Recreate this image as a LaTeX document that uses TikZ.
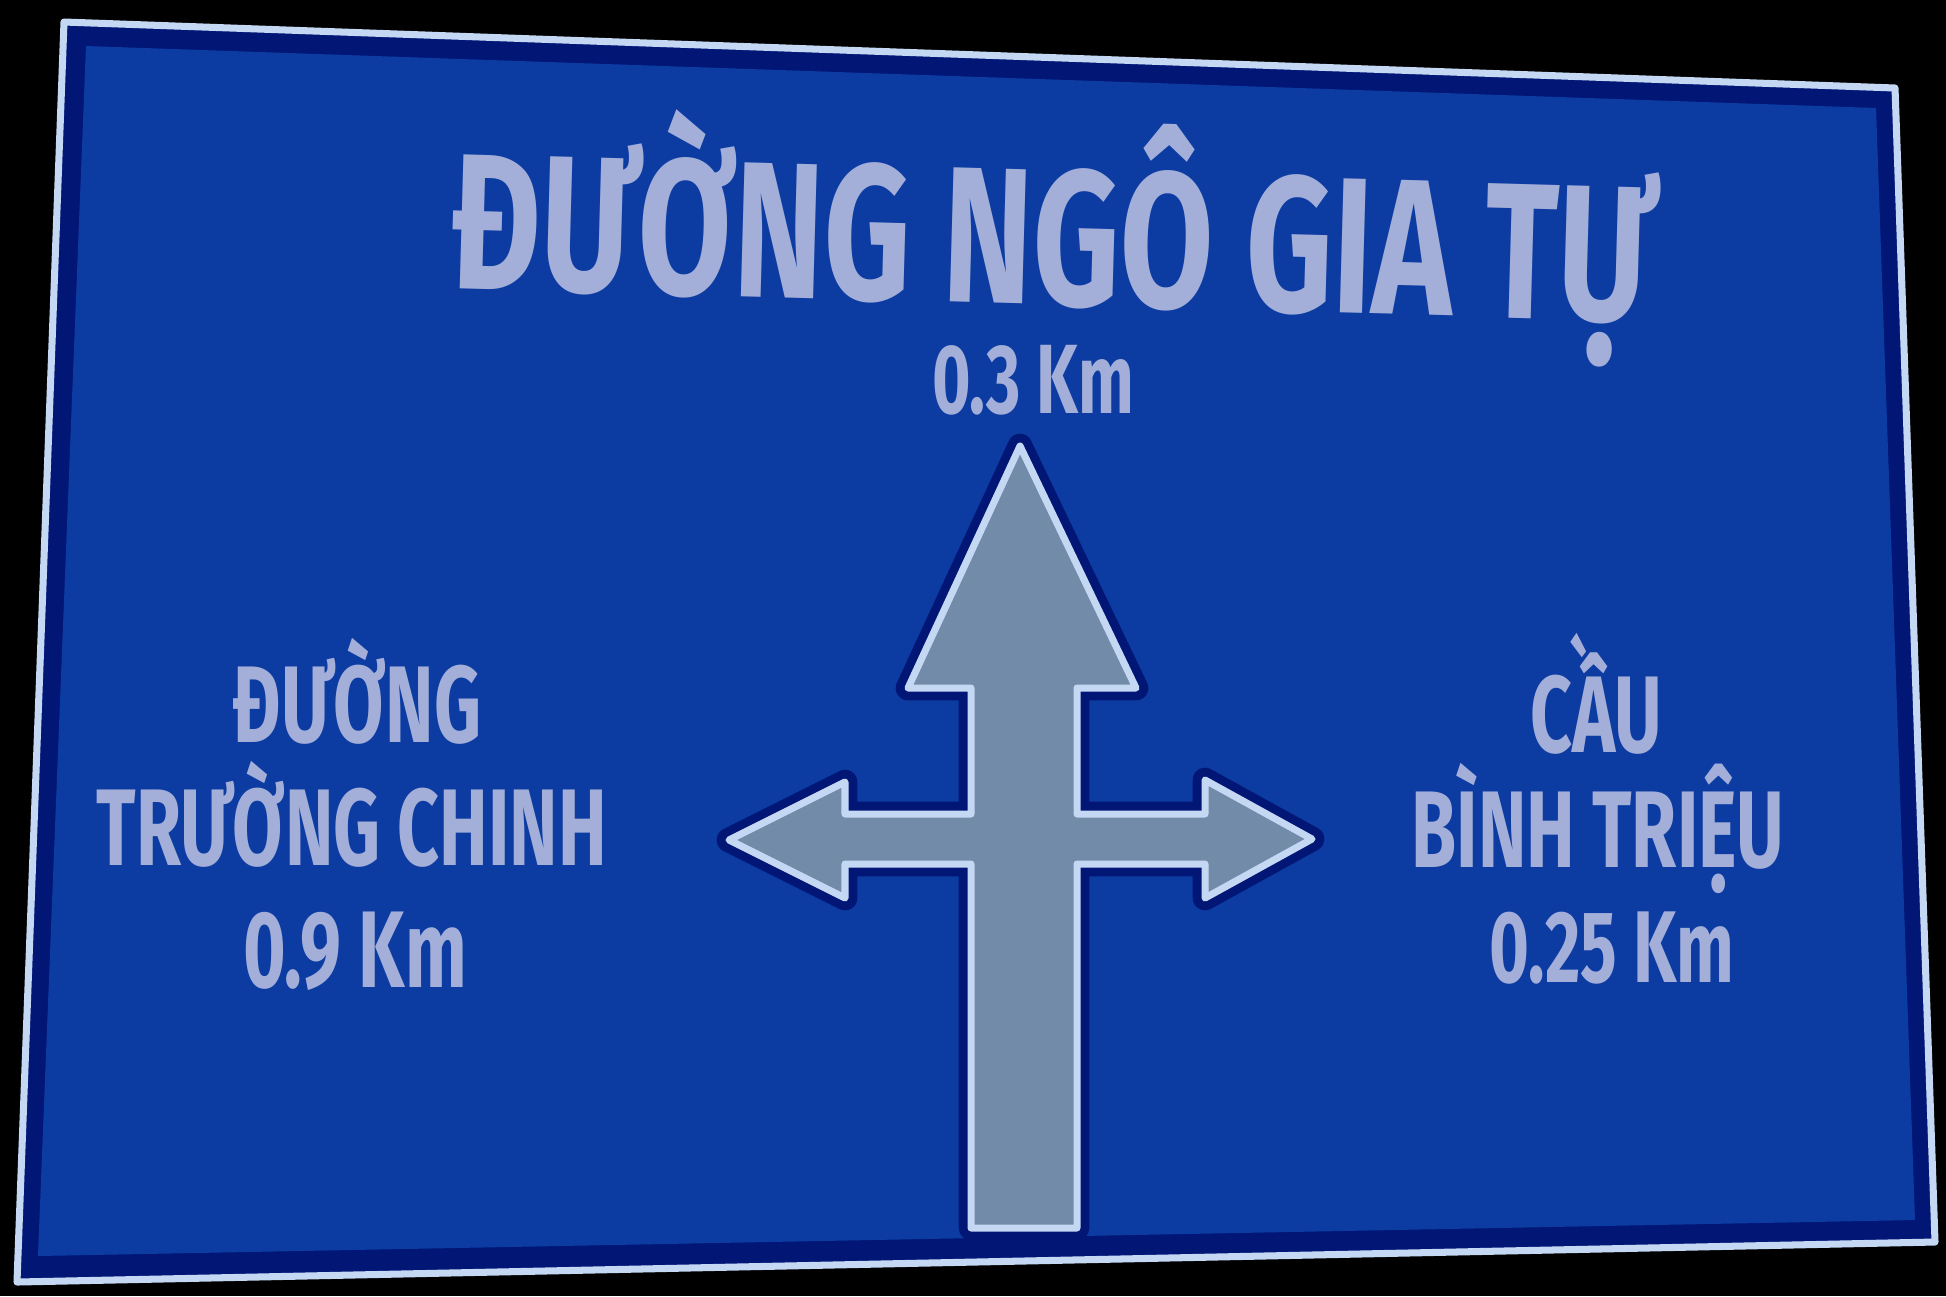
\documentclass[tikz,border=0pt]{standalone}
\usepackage{fontspec}
\setmainfont{Fira Sans}[FakeStretch=0.67]
\newfontfamily\titlefont{Fira Sans}[FakeStretch=0.70]
\definecolor{signblue}{HTML}{0C3CA2}
\definecolor{signnavy}{HTML}{021676}
\definecolor{signwhite}{HTML}{C4D8F4}
\definecolor{signtext}{HTML}{A4AFD9}
\definecolor{arrowgray}{HTML}{728BA8}
\tikzset{
  place/.style={anchor=base, inner sep=0pt, text=signtext, font=\fontsize{31}{31}\selectfont\bfseries},
  arrowbody/.style={fill=arrowgray, draw=signwhite, line width=2pt, line join=round,
    preaction={draw=signnavy, line width=7pt, line join=round}}
}
\begin{document}
\begin{tikzpicture}[x=0.01cm,y=-0.01cm]

	\fill [black] (0,0) rectangle (1946,1296);%背景
	\draw [fill=signnavy, draw=signwhite, line width=2pt, line join=round] (64,22) -- (1895,88) -- (1935,1242) -- (17,1282) -- cycle;%外框
	\fill [signblue] (86,46) -- (1876,108) -- (1915,1220) -- (38,1256) -- cycle;%蓝底

	\draw [arrowbody] (1020,446) -- (1136,688) -- (1077,688) -- (1077,814) -- (1205,814) -- (1205,780)
		-- (1312,839) -- (1205,898) -- (1205,864) -- (1077,864) -- (1077,1228) -- (971,1228)
		-- (971,864) -- (845,864) -- (845,898) -- (729,840) -- (845,782) -- (845,814)
		-- (971,814) -- (971,688) -- (908,688) -- cycle;%箭头

	\node [place, rotate=-1.6, font=\titlefont\fontsize{55}{55}\selectfont\bfseries] (ngogiatu) at (1052,305) {ĐƯỜNG NGÔ GIA TỰ};%正前方
	\node [place, font=\fontsize{28}{28}\selectfont\bfseries] (dist03) at (1033,413) {0.3 Km};

	\node [place] (duong) at (357,742) {ĐƯỜNG};%左
	\node [place] (truongchinh) at (352,865) {TRƯỜNG CHINH};
	\node [place] (dist09) at (355,987) {0.9 Km};

	\node [place] (cau) at (1596,752) {CẦU};%右
	\node [place] (binhtrieu) at (1598,867) {BÌNH TRIỆU};
	\node [place, font=\fontsize{29}{29}\selectfont\bfseries] (dist025) at (1612,982) {0.25 Km};

\end{tikzpicture}
\end{document}
